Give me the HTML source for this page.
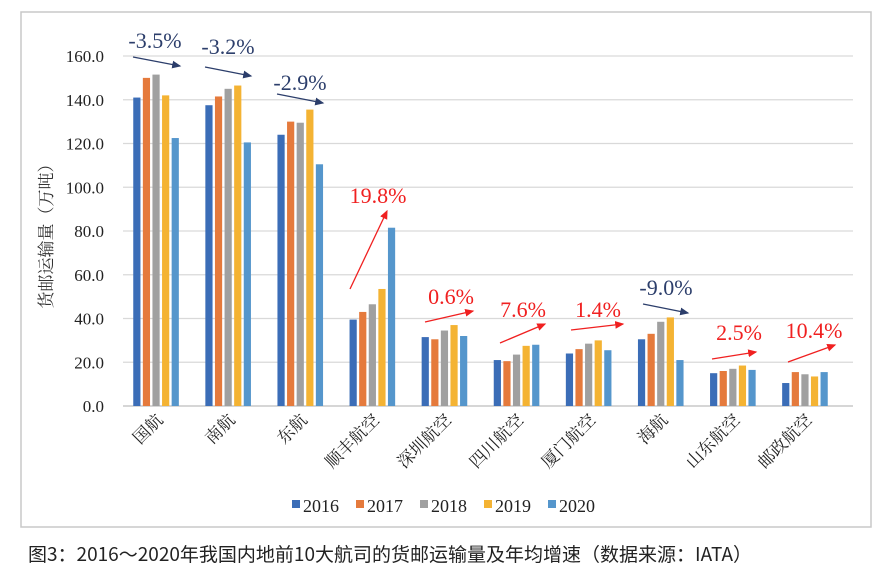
<!DOCTYPE html>
<html><head><meta charset="utf-8"><style>
body{margin:0;background:#fff;width:889px;height:569px;overflow:hidden;font-family:"Liberation Serif","Noto Serif CJK SC",serif}
text{font-family:"Liberation Serif","Noto Serif CJK SC",serif}
</style></head><body>
<svg width="889" height="569" xmlns="http://www.w3.org/2000/svg">
<rect x="21" y="12" width="850" height="515" fill="#fff" stroke="#c8c8c8" stroke-width="1.5"/>
<g id="grid"></g><g id="bars"></g><g id="ann"></g><g id="xl"></g><g id="leg"></g>
<text x="52" y="232" transform="rotate(-90 52 232)" text-anchor="middle" font-size="17" fill="#333">货邮运输量（万吨）</text>
<text x="28" y="561" font-size="19" style="font-family:'Noto Sans CJK SC','Liberation Sans',sans-serif" fill="#222">图3：2016～2020年我国内地前10大航司的货邮运输量及年均增速（数据来源：IATA）</text>
</svg>
<script>
const categories=["国航","南航","东航","顺丰航空","深圳航空","四川航空","厦门航空","海航","山东航空","邮政航空"];
const seriesNames=["2016","2017","2018","2019","2020"];
const s2016=[141,137.5,124,39.5,31.5,21,24,30.5,15,10.5];
const s2017=[150,141.5,130,43,30.5,20.5,26,33,16,15.5];
const s2018=[151.5,145,129.5,46.5,34.5,23.5,28.5,38.5,17,14.5];
const s2019=[142,146.5,135.5,53.5,37,27.5,30,40.5,18.5,13.5];
const s2020=[122.5,120.5,110.5,81.5,32,28,25.5,21,16.5,15.5];
const yTicks=[0,20,40,60,80,100,120,140,160];
const growth=["-3.5%","-3.2%","-2.9%","19.8%","0.6%","7.6%","1.4%","-9.0%","2.5%","10.4%"];
const colors=["#3b6db7","#e57a3c","#a0a0a0","#f4b333","#5596cc"];
const NS="http://www.w3.org/2000/svg";
const y0=406,yk=350/160,x0=120,band=72.1,bw=7.2,step=9.6;
const Y=v=>y0-v*yk, XC=i=>x0+band*(i+0.5);
function el(t,a,p){const e=document.createElementNS(NS,t);for(const k in a)e.setAttribute(k,a[k]);document.getElementById(p).appendChild(e);return e;}
yTicks.forEach(v=>{
 const l=el('line',{x1:123,x2:853,y1:Y(v),y2:Y(v),stroke:v?'#d9d9d9':'#c8c8c8','stroke-width':v?1.2:1.5},'grid');
 
 const t=el('text',{x:104,y:Y(v)+6,'text-anchor':'end','font-size':17,fill:'#222'},'grid');t.textContent=v.toFixed(1);
 
});
const series=[s2016,s2017,s2018,s2019,s2020];
categories.forEach((c,i)=>{
 series.forEach((s,j)=>{
  const x=XC(i)+(j-2)*step-bw/2;
  const r=el('rect',{x:x,y:Y(s[i]),width:bw,height:s[i]*yk,fill:colors[j]},'bars');
  
 });
 const cx=XC(i)+8,cy=421;
 const t=el('text',{x:cx,y:cy,transform:`rotate(-45 ${cx} ${cy})`,'text-anchor':'end','font-size':17,fill:'#222'},'xl');
 t.textContent=c;
});
const annPos=[[155,48,133,57,180,66],[228,54,205,67,251,76],[300,90,277,94,323,103],[378,203,350,289,387,211],[451,304,425,322,473,311],[523,317,500,343,545,324],[598,317,571,330,623,324],[666,295,643,304,688,313],[739,340,712,359,756,352],[814,338,788,362,835,345]];
const ad=el('defs',{},'ann');
ad.innerHTML='<marker id="mr" markerWidth="8" markerHeight="8" refX="6" refY="3" orient="auto"><path d="M0,0L7,3L0,6z" fill="#f02020"/></marker><marker id="mb" markerWidth="8" markerHeight="8" refX="6" refY="3" orient="auto"><path d="M0,0L7,3L0,6z" fill="#2c3e6b"/></marker>';
growth.forEach((g,i)=>{
 const p=annPos[i],neg=g[0]==='-',col=neg?'#2c3e6b':'#f02020';
 const t=el('text',{x:p[0],y:p[1],'text-anchor':'middle','font-size':22,fill:col},'ann');t.textContent=g;
 
 const l=el('line',{x1:p[2],y1:p[3],x2:p[4],y2:p[5],stroke:col,'stroke-width':1.3,'marker-end':neg?'url(#mb)':'url(#mr)'},'ann');
 
});
seriesNames.forEach((n,j)=>{
 const x=292+j*64;
 const r=el('rect',{x:x,y:500,width:8,height:8,fill:colors[j]},'leg');
 
 const t=el('text',{x:x+11,y:512,'font-size':18,fill:'#222'},'leg');t.textContent=n;
 
});
</script>
</body></html>
